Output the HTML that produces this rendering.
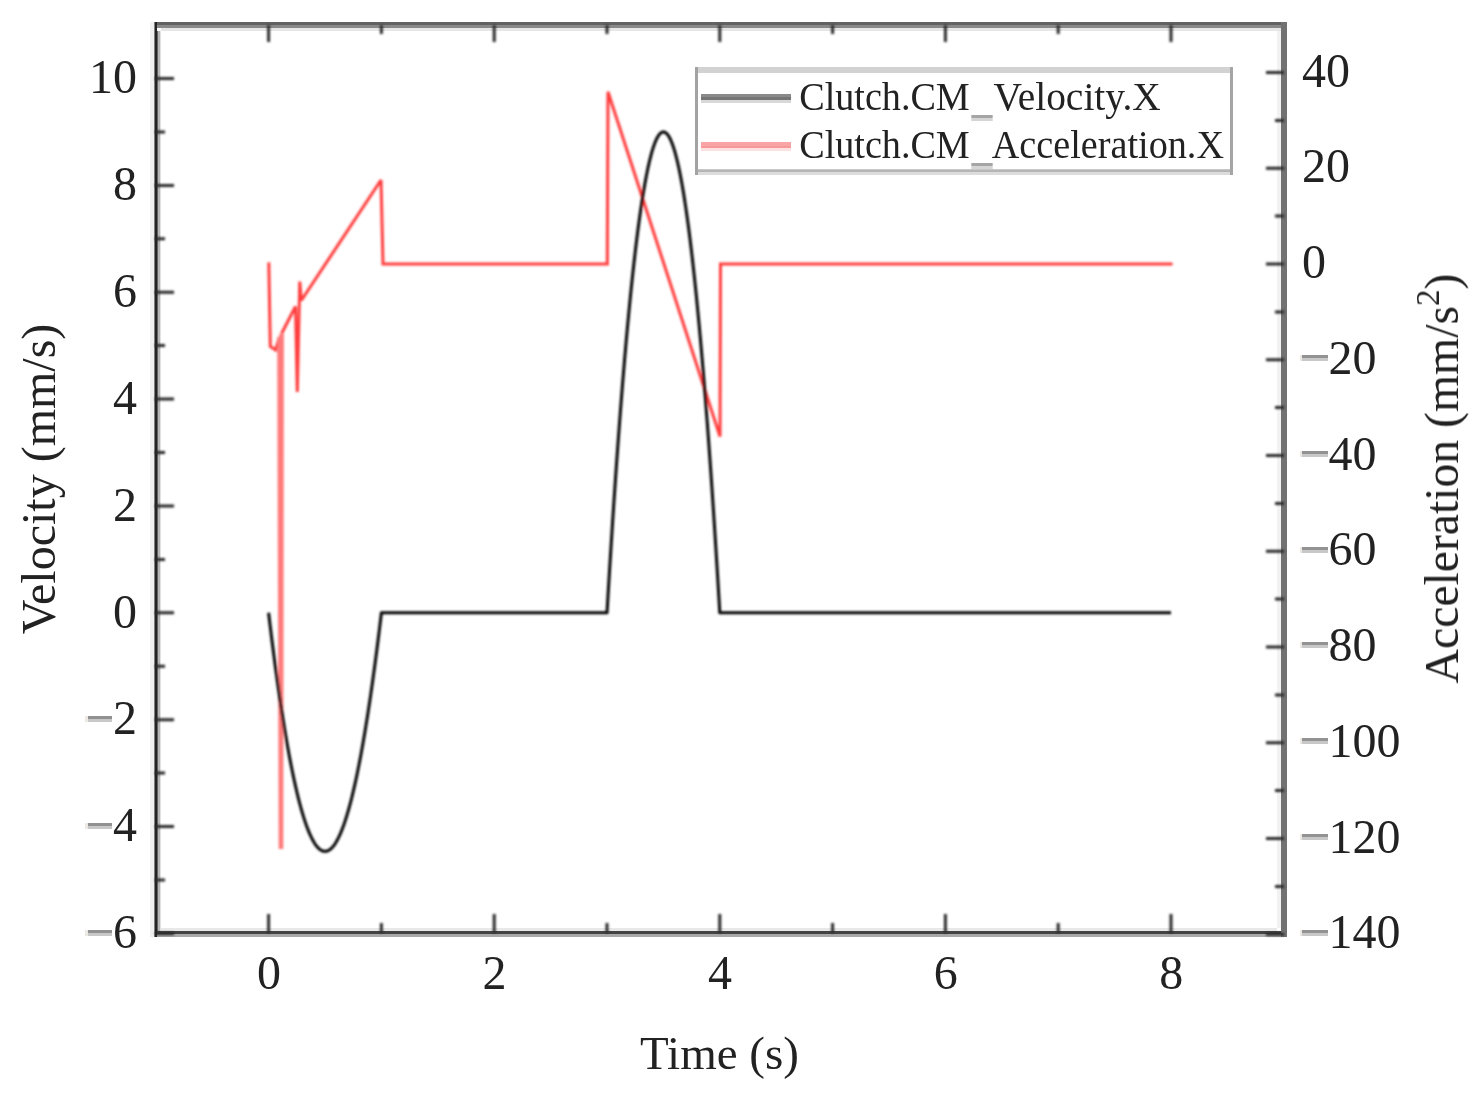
<!DOCTYPE html>
<html><head><meta charset="utf-8"><style>
html,body{margin:0;padding:0;background:#fff;width:1481px;height:1100px;overflow:hidden}
svg{display:block}
</style></head><body>
<svg width="1481" height="1100" viewBox="0 0 1481 1100"><defs><filter id="b1" filterUnits="userSpaceOnUse" x="0" y="0" width="1481" height="1100"><feGaussianBlur stdDeviation="0.9"/></filter><filter id="b2" filterUnits="userSpaceOnUse" x="0" y="0" width="1481" height="1100"><feGaussianBlur stdDeviation="0.7"/></filter></defs><rect width="1481" height="1100" fill="#fff"/><rect x="150" y="22" width="4" height="915" fill="#f0f0f0"/><rect x="154" y="22" width="1" height="915" fill="#808080"/><rect x="155" y="22" width="2" height="915" fill="#232323"/><rect x="157" y="31" width="1" height="900" fill="#606060"/><rect x="158" y="31" width="2" height="900" fill="#b5b5b5"/><rect x="160" y="31" width="1" height="900" fill="#e0e0e0"/><rect x="157" y="22" width="1130" height="3" fill="#626262"/><rect x="157" y="25" width="1130" height="3" fill="#888888"/><rect x="161" y="28" width="1120" height="3" fill="#e6e6e6"/><rect x="161" y="928" width="1116" height="3" fill="#e8e8e8"/><rect x="157" y="931" width="1130" height="3" fill="#434343"/><rect x="157" y="934" width="1130" height="3" fill="#a8a8a8"/><rect x="1277" y="31" width="4" height="897" fill="#f2f2f2"/><rect x="1281" y="22" width="6" height="915" fill="#727272"/><rect x="698" y="73" width="532" height="96" fill="#ffffff"/><rect x="695" y="67" width="3" height="108" fill="#a3a3a3"/><rect x="1230" y="67" width="3" height="108" fill="#a5a5a5"/><rect x="698" y="67" width="532" height="6" fill="#d2d2d2"/><rect x="698" y="169" width="532" height="1" fill="#c8c8c8"/><rect x="698" y="170" width="532" height="2" fill="#b5b5b5"/><rect x="698" y="172" width="532" height="3" fill="#dcdcdc"/><rect x="701" y="94" width="90" height="3" fill="#8a8a8a"/><rect x="701" y="97" width="90" height="3" fill="#757575"/><rect x="701" y="100" width="90" height="3" fill="#d8d8d8"/><rect x="701" y="142" width="90" height="4" fill="#f9a5a5"/><rect x="701" y="146" width="90" height="2" fill="#f89999"/><rect x="701" y="148" width="90" height="3" fill="#fde0e0"/><g filter="url(#b1)"><path d="M155.0,933.4H174.0M155.0,826.5H174.0M155.0,719.7H174.0M155.0,612.8H174.0M155.0,505.9H174.0M155.0,399.1H174.0M155.0,292.2H174.0M155.0,185.4H174.0M155.0,78.5H174.0M155.0,879.9H165.0M155.0,773.1H165.0M155.0,666.2H165.0M155.0,559.4H165.0M155.0,452.5H165.0M155.0,345.6H165.0M155.0,238.8H165.0M155.0,131.9H165.0M1284.0,934.2H1266.0M1284.0,838.5H1266.0M1284.0,742.8H1266.0M1284.0,647.0H1266.0M1284.0,551.2H1266.0M1284.0,455.5H1266.0M1284.0,359.8H1266.0M1284.0,264.0H1266.0M1284.0,168.2H1266.0M1284.0,72.5H1266.0M1284.0,886.4H1275.0M1284.0,790.6H1275.0M1284.0,694.9H1275.0M1284.0,599.1H1275.0M1284.0,503.4H1275.0M1284.0,407.6H1275.0M1284.0,311.9H1275.0M1284.0,216.1H1275.0M1284.0,120.4H1275.0M268.6,933.0V914.0M268.6,25.0V42.0M494.2,933.0V914.0M494.2,25.0V42.0M719.8,933.0V914.0M719.8,25.0V42.0M945.4,933.0V914.0M945.4,25.0V42.0M1171.0,933.0V914.0M1171.0,25.0V42.0M381.4,933.0V923.0M381.4,25.0V34.0M607.0,933.0V923.0M607.0,25.0V34.0M832.6,933.0V923.0M832.6,25.0V34.0M1058.2,933.0V923.0M1058.2,25.0V34.0" stroke="#2a2a2a" stroke-width="3" fill="none"/><path d="M268.80,262.40 L270.30,346.50 L275.50,350.00 L279.50,337.00 M281.60,333.50 L295.50,306.50 L297.30,392.00 L299.80,281.50 L301.30,300.50 L381.00,180.00 L383.00,264.00 L607.30,264.00 L608.00,91.80 L720.00,436.50 L720.50,264.00 L1172.50,264.00" stroke="#ff3c3c" stroke-width="3" fill="none" stroke-linejoin="miter" stroke-miterlimit="3"/><path d="M279.50,337.00 L281.00,849.00 L281.60,333.50" stroke="#ff7a7a" stroke-width="4.6" fill="none" stroke-linejoin="miter" stroke-miterlimit="3"/><path d="M268.60,612.80 L269.31,618.73 L270.01,624.58 L270.72,630.36 L271.42,636.06 L272.12,641.69 L272.83,647.24 L273.54,652.72 L274.24,658.13 L274.95,663.46 L275.65,668.71 L276.36,673.89 L277.06,679.00 L277.77,684.03 L278.47,688.99 L279.18,693.87 L279.88,698.68 L280.59,703.42 L281.29,708.08 L282.00,712.66 L282.70,717.17 L283.41,721.61 L284.11,725.97 L284.81,730.26 L285.52,734.47 L286.23,738.61 L286.93,742.67 L287.64,746.66 L288.34,750.57 L289.05,754.41 L289.75,758.18 L290.46,761.87 L291.16,765.48 L291.87,769.02 L292.57,772.49 L293.28,775.88 L293.98,779.20 L294.69,782.44 L295.39,785.61 L296.10,788.70 L296.80,791.72 L297.50,794.67 L298.21,797.54 L298.92,800.33 L299.62,803.06 L300.33,805.70 L301.03,808.27 L301.74,810.77 L302.44,813.19 L303.15,815.54 L303.85,817.82 L304.56,820.02 L305.26,822.14 L305.97,824.19 L306.67,826.17 L307.38,828.07 L308.08,829.89 L308.79,831.65 L309.49,833.32 L310.20,834.93 L310.90,836.45 L311.61,837.91 L312.31,839.29 L313.02,840.59 L313.72,841.82 L314.43,842.98 L315.13,844.06 L315.84,845.07 L316.54,846.00 L317.25,846.85 L317.95,847.64 L318.66,848.35 L319.36,848.98 L320.06,849.54 L320.77,850.02 L321.48,850.43 L322.18,850.77 L322.88,851.03 L323.59,851.22 L324.30,851.33 L325.00,851.36 L325.71,851.33 L326.41,851.22 L327.12,851.03 L327.82,850.77 L328.53,850.43 L329.23,850.02 L329.94,849.54 L330.64,848.98 L331.35,848.35 L332.05,847.64 L332.75,846.85 L333.46,846.00 L334.17,845.07 L334.87,844.06 L335.58,842.98 L336.28,841.82 L336.99,840.59 L337.69,839.29 L338.40,837.91 L339.10,836.45 L339.81,834.93 L340.51,833.32 L341.22,831.65 L341.92,829.89 L342.62,828.07 L343.33,826.17 L344.04,824.19 L344.74,822.14 L345.45,820.02 L346.15,817.82 L346.86,815.54 L347.56,813.19 L348.27,810.77 L348.97,808.27 L349.68,805.70 L350.38,803.06 L351.09,800.33 L351.79,797.54 L352.50,794.67 L353.20,791.72 L353.91,788.70 L354.61,785.61 L355.32,782.44 L356.02,779.20 L356.73,775.88 L357.43,772.49 L358.13,769.02 L358.84,765.48 L359.55,761.87 L360.25,758.18 L360.96,754.41 L361.66,750.57 L362.37,746.66 L363.07,742.67 L363.78,738.61 L364.48,734.47 L365.19,730.26 L365.89,725.97 L366.60,721.61 L367.30,717.17 L368.00,712.66 L368.71,708.08 L369.42,703.42 L370.12,698.68 L370.83,693.87 L371.53,688.99 L372.24,684.03 L372.94,679.00 L373.65,673.89 L374.35,668.71 L375.06,663.46 L375.76,658.13 L376.47,652.72 L377.17,647.24 L377.88,641.69 L378.58,636.06 L379.29,630.36 L379.99,624.58 L380.70,618.73 L381.40,612.80 L606.50,612.80 L607.00,612.80 L607.71,600.85 L608.41,589.06 L609.12,577.41 L609.82,565.92 L610.53,554.57 L611.23,543.37 L611.94,532.33 L612.64,521.43 L613.35,510.69 L614.05,500.10 L614.76,489.65 L615.46,479.36 L616.16,469.22 L616.87,459.22 L617.58,449.38 L618.28,439.69 L618.99,430.14 L619.69,420.75 L620.39,411.51 L621.10,402.42 L621.81,393.48 L622.51,384.69 L623.21,376.05 L623.92,367.56 L624.62,359.22 L625.33,351.03 L626.04,342.99 L626.74,335.10 L627.44,327.36 L628.15,319.77 L628.86,312.33 L629.56,305.04 L630.26,297.91 L630.97,290.92 L631.67,284.08 L632.38,277.39 L633.09,270.86 L633.79,264.47 L634.50,258.23 L635.20,252.15 L635.90,246.21 L636.61,240.43 L637.32,234.79 L638.02,229.31 L638.73,223.97 L639.43,218.79 L640.13,213.75 L640.84,208.87 L641.55,204.14 L642.25,199.55 L642.96,195.12 L643.66,190.84 L644.37,186.70 L645.07,182.72 L645.78,178.89 L646.48,175.21 L647.19,171.68 L647.89,168.30 L648.60,165.06 L649.30,161.98 L650.00,159.05 L650.71,156.27 L651.41,153.64 L652.12,151.16 L652.83,148.84 L653.53,146.66 L654.24,144.63 L654.94,142.75 L655.64,141.02 L656.35,139.44 L657.06,138.02 L657.76,136.74 L658.46,135.61 L659.17,134.63 L659.88,133.81 L660.58,133.13 L661.29,132.61 L661.99,132.23 L662.69,132.01 L663.40,131.93 L664.11,132.01 L664.81,132.23 L665.51,132.61 L666.22,133.13 L666.92,133.81 L667.63,134.63 L668.34,135.61 L669.04,136.74 L669.75,138.02 L670.45,139.44 L671.15,141.02 L671.86,142.75 L672.57,144.63 L673.27,146.66 L673.98,148.84 L674.68,151.16 L675.38,153.64 L676.09,156.27 L676.80,159.05 L677.50,161.98 L678.21,165.06 L678.91,168.30 L679.62,171.68 L680.32,175.21 L681.03,178.89 L681.73,182.72 L682.44,186.70 L683.14,190.84 L683.85,195.12 L684.55,199.55 L685.25,204.14 L685.96,208.87 L686.66,213.75 L687.37,218.79 L688.08,223.97 L688.78,229.31 L689.49,234.79 L690.19,240.43 L690.89,246.21 L691.60,252.15 L692.31,258.23 L693.01,264.47 L693.71,270.86 L694.42,277.39 L695.12,284.08 L695.83,290.92 L696.54,297.91 L697.24,305.04 L697.94,312.33 L698.65,319.77 L699.36,327.36 L700.06,335.10 L700.76,342.99 L701.47,351.03 L702.17,359.22 L702.88,367.56 L703.59,376.05 L704.29,384.69 L705.00,393.48 L705.70,402.42 L706.40,411.51 L707.11,420.75 L707.82,430.14 L708.52,439.69 L709.23,449.38 L709.93,459.22 L710.63,469.22 L711.34,479.36 L712.05,489.65 L712.75,500.10 L713.46,510.69 L714.16,521.43 L714.87,532.33 L715.57,543.37 L716.28,554.57 L716.98,565.92 L717.69,577.41 L718.39,589.06 L719.10,600.85 L719.80,612.80 L1171.00,612.80" stroke="#000" stroke-width="3" fill="none" stroke-linejoin="round"/></g><g font-family="Liberation Serif" fill="#222" font-size="48" filter="url(#b2)"><text x="137.0" y="0" text-anchor="end" transform="translate(0,948.15) scale(1,1.03)">6</text><text x="137.0" y="0" text-anchor="end" transform="translate(0,841.29) scale(1,1.03)">4</text><text x="137.0" y="0" text-anchor="end" transform="translate(0,734.43) scale(1,1.03)">2</text><text x="137.0" y="0" text-anchor="end" transform="translate(0,627.57) scale(1,1.03)">0</text><text x="137.0" y="0" text-anchor="end" transform="translate(0,520.71) scale(1,1.03)">2</text><text x="137.0" y="0" text-anchor="end" transform="translate(0,413.85) scale(1,1.03)">4</text><text x="137.0" y="0" text-anchor="end" transform="translate(0,306.99) scale(1,1.03)">6</text><text x="137.0" y="0" text-anchor="end" transform="translate(0,200.13) scale(1,1.03)">8</text><text x="137.0" y="0" text-anchor="end" transform="translate(0,93.27) scale(1,1.03)">10</text><text x="1328.6" y="0" transform="translate(0,948.32) scale(1,1.03)">140</text><text x="1328.6" y="0" transform="translate(0,852.57) scale(1,1.03)">120</text><text x="1328.6" y="0" transform="translate(0,756.82) scale(1,1.03)">100</text><text x="1328.6" y="0" transform="translate(0,661.07) scale(1,1.03)">80</text><text x="1328.6" y="0" transform="translate(0,565.32) scale(1,1.03)">60</text><text x="1328.6" y="0" transform="translate(0,469.57) scale(1,1.03)">40</text><text x="1328.6" y="0" transform="translate(0,373.82) scale(1,1.03)">20</text><text x="1302.0" y="0" transform="translate(0,278.07) scale(1,1.03)">0</text><text x="1302.0" y="0" transform="translate(0,182.32) scale(1,1.03)">20</text><text x="1302.0" y="0" transform="translate(0,86.57) scale(1,1.03)">40</text><text x="268.9" y="0" text-anchor="middle" transform="translate(0,988.57) scale(1,1.03)">0</text><text x="494.5" y="0" text-anchor="middle" transform="translate(0,988.57) scale(1,1.03)">2</text><text x="720.1" y="0" text-anchor="middle" transform="translate(0,988.57) scale(1,1.03)">4</text><text x="945.7" y="0" text-anchor="middle" transform="translate(0,988.57) scale(1,1.03)">6</text><text x="1171.3" y="0" text-anchor="middle" transform="translate(0,988.57) scale(1,1.03)">8</text><text x="719.5" y="1068.5" text-anchor="middle" font-size="47">Time (s)</text><text transform="translate(55,479) rotate(-90)" text-anchor="middle">Velocity (mm/s)</text><text transform="translate(1458,478.5) rotate(-90)" text-anchor="middle" font-size="47.7">Acceleration (mm/s<tspan dy="-19" font-size="33">2</tspan><tspan dy="19">)</tspan></text></g><g><rect x="88" y="930" width="24" height="3" fill="#919191"/><rect x="88" y="933" width="24" height="3" fill="#c8c8c8"/><rect x="85" y="930" width="3" height="6" fill="#ece8e4"/><rect x="88" y="823" width="24" height="3" fill="#919191"/><rect x="88" y="826" width="24" height="3" fill="#c8c8c8"/><rect x="85" y="823" width="3" height="6" fill="#ece8e4"/><rect x="88" y="716" width="24" height="3" fill="#919191"/><rect x="88" y="719" width="24" height="3" fill="#c8c8c8"/><rect x="85" y="716" width="3" height="6" fill="#ece8e4"/><rect x="1302" y="930" width="26" height="3" fill="#939393"/><rect x="1302" y="933" width="26" height="3" fill="#c8c8c8"/><rect x="1300" y="930" width="2" height="6" fill="#ece8e4"/><rect x="1302" y="834" width="26" height="3" fill="#939393"/><rect x="1302" y="837" width="26" height="3" fill="#c8c8c8"/><rect x="1300" y="834" width="2" height="6" fill="#ece8e4"/><rect x="1302" y="738" width="26" height="3" fill="#939393"/><rect x="1302" y="741" width="26" height="3" fill="#c8c8c8"/><rect x="1300" y="738" width="2" height="6" fill="#ece8e4"/><rect x="1302" y="642" width="26" height="3" fill="#939393"/><rect x="1302" y="645" width="26" height="3" fill="#c8c8c8"/><rect x="1300" y="642" width="2" height="6" fill="#ece8e4"/><rect x="1302" y="547" width="26" height="3" fill="#939393"/><rect x="1302" y="550" width="26" height="3" fill="#c8c8c8"/><rect x="1300" y="547" width="2" height="6" fill="#ece8e4"/><rect x="1302" y="451" width="26" height="3" fill="#939393"/><rect x="1302" y="454" width="26" height="3" fill="#c8c8c8"/><rect x="1300" y="451" width="2" height="6" fill="#ece8e4"/><rect x="1302" y="355" width="26" height="3" fill="#939393"/><rect x="1302" y="358" width="26" height="3" fill="#c8c8c8"/><rect x="1300" y="355" width="2" height="6" fill="#ece8e4"/></g><g font-family="Liberation Serif" fill="#222" font-size="39" filter="url(#b2)"><g transform="translate(0,110.2) scale(1,1.05)"><text x="799.2" y="0" textLength="170.6" lengthAdjust="spacingAndGlyphs">Clutch.CM</text><text x="993.6" y="0" textLength="167.2" lengthAdjust="spacingAndGlyphs">Velocity.X</text></g><g transform="translate(0,158.2) scale(1,1.05)"><text x="799.2" y="0" textLength="170.6" lengthAdjust="spacingAndGlyphs">Clutch.CM</text><text x="991.8" y="0" textLength="232.2" lengthAdjust="spacingAndGlyphs">Acceleration.X</text></g></g><g filter="url(#b2)"><rect x="971.3" y="115" width="21.4" height="3" fill="#a5a5a5"/><rect x="971.3" y="118" width="21.4" height="3" fill="#d5d5d5"/><rect x="971.3" y="163" width="21.4" height="3" fill="#a5a5a5"/><rect x="971.3" y="166" width="21.4" height="3" fill="#d5d5d5"/></g></svg>
</body></html>
